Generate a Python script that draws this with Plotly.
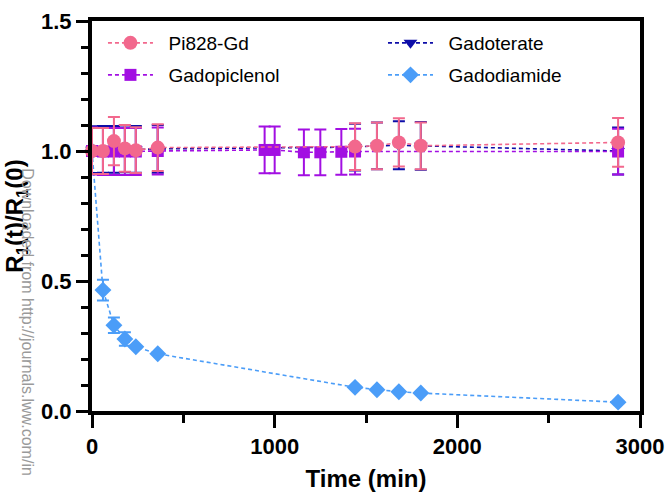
import plotly.graph_objects as go

# ---------------- data ----------------
t_pi828 = [0, 60, 120, 180, 240, 360, 1440, 1560, 1680, 1800, 2880]
y_pi828 = [1.0, 1.0, 1.038, 1.01, 1.003, 1.013, 1.017, 1.02, 1.033, 1.02, 1.033]
e_pi828 = [0.088, 0.088, 0.093, 0.09, 0.088, 0.09, 0.09, 0.09, 0.093, 0.09, 0.094]

t_gadoterate = [0, 60, 120, 180, 240, 360, 1440, 1560, 1680, 1800, 2880]
y_gadoterate = [1.005, 1.006, 1.006, 1.008, 1.006, 1.008, 1.015, 1.02, 1.022, 1.02, 1.0]
e_gadoterate = [0.09, 0.09, 0.09, 0.09, 0.09, 0.092, 0.09, 0.09, 0.092, 0.092, 0.09]

t_gadopiclenol = [0, 60, 120, 180, 240, 360, 945, 1000, 1160, 1250, 1365, 1440, 2880]
y_gadopiclenol = [1.0, 0.998, 0.998, 0.998, 0.998, 1.0, 1.004, 1.004, 0.995, 0.995, 0.997, 0.998, 0.998]
e_gadopiclenol = [0.09, 0.09, 0.09, 0.09, 0.09, 0.09, 0.09, 0.09, 0.088, 0.088, 0.088, 0.088, 0.088]

t_gadodiamide = [0, 60, 120, 180, 240, 360, 1440, 1560, 1680, 1800, 2880]
y_gadodiamide = [1.0, 0.465, 0.33, 0.277, 0.247, 0.22, 0.091, 0.082, 0.074, 0.069, 0.034]
e_gadodiamide = [0.0, 0.04, 0.03, 0.026, 0.0, 0.0, 0.0, 0.0, 0.0, 0.0, 0.0]

x_ticks = [0, 1000, 2000, 3000]
y_ticks = [0.0, 0.5, 1.0, 1.5]

# ---------------- styles ----------------
C_PINK = "#F2688D"
C_PURPLE = "#A20FE2"
C_NAVY = "#0D0DA8"
C_LBLUE = "#4B9DF8"
FONT = "Liberation Sans"
DASH = "4px,3px"
PAD = "\u00a0\u00a0"

fig = go.Figure()


def add(name, t, y, e, color, symbol, size, legend):
    fig.add_trace(go.Scatter(
        x=t, y=y, name=PAD + name, mode="lines+markers",
        line=dict(color=color, width=1.6, dash=DASH),
        marker=dict(color=color, symbol=symbol, size=size, line=dict(width=0)),
        error_y=dict(type="data", array=e, visible=True, color=color,
                     thickness=2, width=6),
        cliponaxis=False, legend=legend, showlegend=True,
    ))


add("Gadodiamide", t_gadodiamide, y_gadodiamide, e_gadodiamide, C_LBLUE, "diamond", 13, "legend4")
add("Gadoterate", t_gadoterate, y_gadoterate, e_gadoterate, C_NAVY, "triangle-down", 12, "legend3")
add("Gadopiclenol", t_gadopiclenol, y_gadopiclenol, e_gadopiclenol, C_PURPLE, "square", 12, "legend2")
add("Pi828-Gd", t_pi828, y_pi828, e_pi828, C_PINK, "circle", 14, "legend")

axis_common = dict(
    showline=True, linecolor="black", linewidth=4, mirror=True,
    ticks="outside", tickcolor="black", tickwidth=3,
    showgrid=False, zeroline=False, automargin=False,
    tickfont=dict(family=FONT, size=22, color="black", weight="bold"),
)

fig.update_xaxes(
    range=[0, 3000], tickvals=x_ticks, ticklen=13,
    minor=dict(dtick=500, ticks="outside", ticklen=8, tickwidth=3, tickcolor="black"),
    title=dict(text="Time (min)", standoff=14,
               font=dict(family=FONT, size=24, color="black", weight="bold")),
    **axis_common,
)
fig.update_yaxes(
    range=[0, 1.5], tickvals=y_ticks, tickformat=".1f", ticklen=12,
    minor=dict(dtick=0.1, ticks="outside", ticklen=7, tickwidth=3, tickcolor="black"),
    title=dict(text="R<sub>1</sub>(t)/R<sub>1</sub>(0)", standoff=12,
               font=dict(family=FONT, size=24, color="black", weight="bold")),
    **axis_common,
)

legend_font = dict(family=FONT, size=19, color="black")


def leg(x, y):
    return dict(x=x, y=y, xanchor="left", yanchor="middle", font=legend_font,
                bgcolor="rgba(0,0,0,0)", itemsizing="trace", itemwidth=45)


fig.update_layout(
    width=667, height=492,
    margin=dict(l=92, r=27, t=21, b=81),
    paper_bgcolor="white", plot_bgcolor="white",
    showlegend=True,
    legend=leg(0.020, 0.9436),
    legend2=leg(0.020, 0.8615),
    legend3=leg(0.531, 0.9436),
    legend4=leg(0.531, 0.8615),
    annotations=[dict(
        text="Downloaded from http://journals.lww.com/in",
        xref="paper", yref="paper", x=-0.118, y=0.627,
        xanchor="center", yanchor="top", textangle=90, showarrow=False,
        font=dict(family=FONT, size=16, color="#9a9a9a"),
    )],
)

fig.write_html("out.html")
